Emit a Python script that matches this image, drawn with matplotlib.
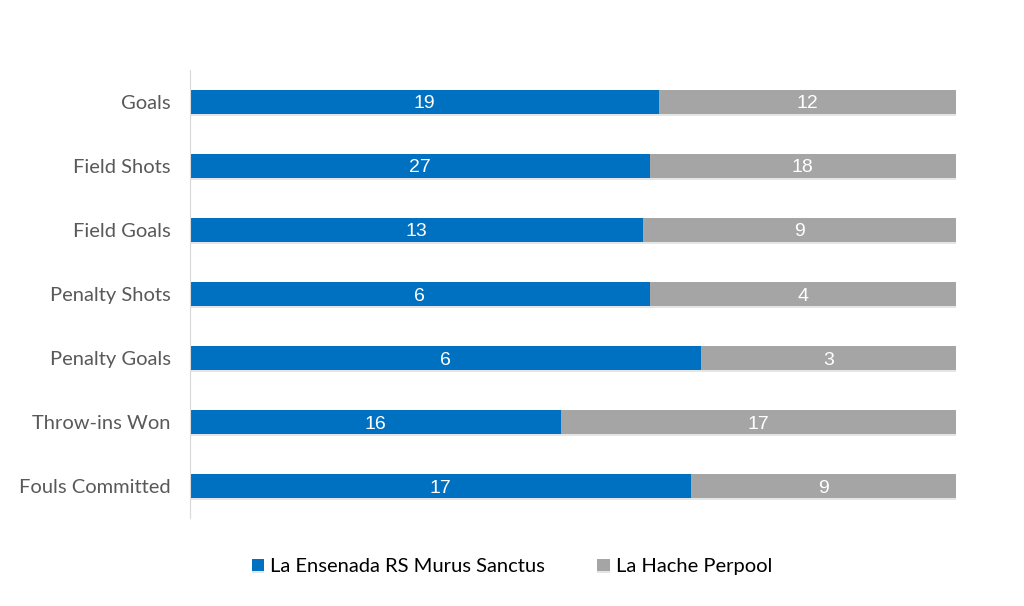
import numpy as np
import matplotlib.pyplot as plt
import matplotlib.patheffects as pe

categories = ['Goals', 'Field Shots', 'Field Goals', 'Penalty Shots',
              'Penalty Goals', 'Throw-ins Won', 'Fouls Committed']
ensenada = [19, 27, 13, 6, 6, 16, 17]
hache = [12, 18, 9, 4, 3, 17, 9]
series_names = ['La Ensenada RS Murus Sanctus', 'La Hache Perpool']

blue = '#0070C0'
grey = '#A5A5A5'

a = np.array(ensenada, dtype=float)
b = np.array(hache, dtype=float)
tot = a + b
pa = a / tot
pb = b / tot
y = np.arange(len(categories))

fig = plt.figure(figsize=(10.24, 6.06), dpi=100)
ax = fig.add_axes([0.1855, 0.1452, 0.748, 0.7393])

shadow = [pe.SimplePatchShadow(offset=(0, -1.5), shadow_rgbFace='#000000', alpha=0.1), pe.Normal()]
bars1 = ax.barh(y, pa, height=0.38, color=blue, label=series_names[0], path_effects=shadow)
bars2 = ax.barh(y, pb, left=pa, height=0.38, color=grey, label=series_names[1], path_effects=shadow)

for i in range(len(categories)):
    ax.text(pa[i] / 2, y[i], str(ensenada[i]), ha='center', va='center_baseline',
            color='white', fontsize=14, family='Liberation Sans')
    ax.text(pa[i] + pb[i] / 2, y[i], str(hache[i]), ha='center', va='center_baseline',
            color='white', fontsize=14, family='Liberation Sans')

ax.set_xlim(0, 1)
ax.set_ylim(6.5, -0.5)
ax.set_yticks(y)
ax.set_yticklabels(categories, family='Lato', fontsize=14.5, color='#595959')
ax.tick_params(axis='y', length=0, pad=14)
ax.set_xticks([])
for s in ['top', 'right', 'bottom']:
    ax.spines[s].set_visible(False)
ax.spines['left'].set_color('#D9D9D9')

leg = fig.legend(handles=[bars1, bars2], loc='center', bbox_to_anchor=(0.5, 0.065),
                 ncol=2, frameon=False, prop={'family': 'Lato', 'size': 14.5},
                 handlelength=0.6, handleheight=0.6, handletextpad=0.3, columnspacing=2.6)

fig.savefig('out.png', dpi=100)
